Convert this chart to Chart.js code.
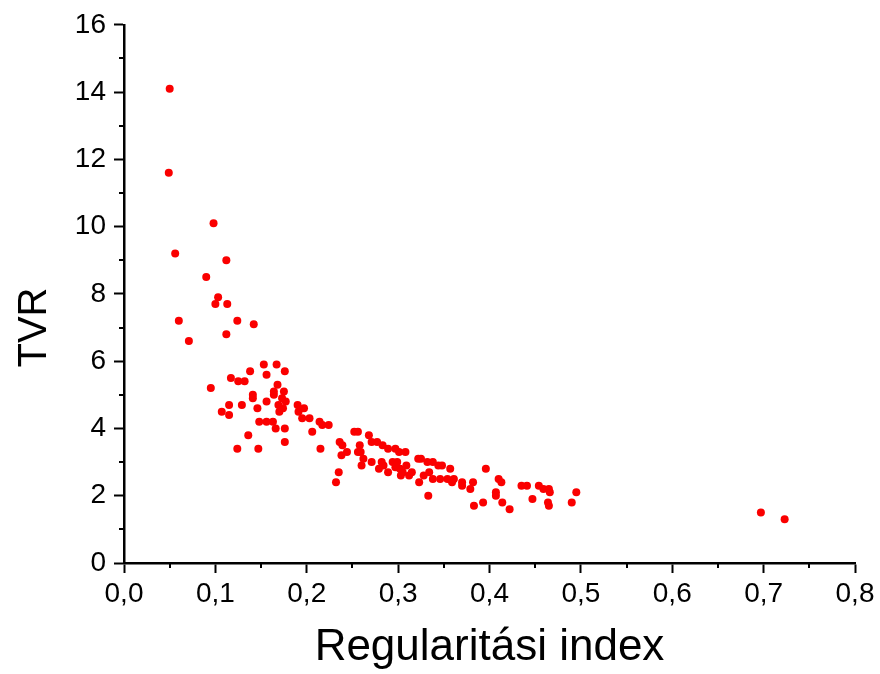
<!DOCTYPE html>
<html>
<head>
<meta charset="utf-8">
<title>TVR vs Regularitási index</title>
<script src="https://cdn.jsdelivr.net/npm/chart.js@4.4.1/dist/chart.umd.min.js"></script>
<style>
  html, body { margin: 0; padding: 0; background: #fff; }
  #wrap { width: 880px; height: 674px; }
</style>
</head>
<body>
<div id="wrap"><canvas id="chart" width="880" height="674"></canvas></div>
<script>
// Regularitási index (x) and TVR (y)
const regIndex = [
  0.050, 0.049, 0.098, 0.056, 0.112, 0.090, 0.103, 0.100, 0.113, 0.060,
  0.124, 0.142, 0.112, 0.071, 0.153, 0.167, 0.138, 0.156, 0.176, 0.117,
  0.125, 0.132, 0.168, 0.095, 0.141, 0.141, 0.164, 0.164, 0.175, 0.173,
  0.177, 0.156, 0.169, 0.174, 0.170, 0.115, 0.129, 0.146, 0.107, 0.115,
  0.190, 0.197, 0.191, 0.195, 0.203, 0.148, 0.156, 0.163, 0.166, 0.176,
  0.214, 0.217, 0.224, 0.206, 0.136, 0.176, 0.124, 0.147, 0.215, 0.236,
  0.239, 0.244, 0.238, 0.235, 0.232, 0.252, 0.256, 0.258, 0.256, 0.259,
  0.262, 0.260, 0.268, 0.271, 0.277, 0.283, 0.289, 0.297, 0.301, 0.308,
  0.271, 0.282, 0.284, 0.279, 0.289, 0.294, 0.299, 0.297, 0.302, 0.309,
  0.305, 0.312, 0.315, 0.303, 0.322, 0.325, 0.332, 0.338, 0.334, 0.328,
  0.323, 0.333, 0.344, 0.348, 0.357, 0.338, 0.346, 0.354, 0.361, 0.359,
  0.370, 0.370, 0.382, 0.379, 0.396, 0.410, 0.413, 0.407, 0.407, 0.383,
  0.393, 0.414, 0.422, 0.435, 0.441, 0.447, 0.454, 0.459, 0.465, 0.466,
  0.464, 0.465, 0.490, 0.495, 0.697, 0.723
];

const tvr = [
  14.1, 11.6, 10.1, 9.2, 9.0, 8.5, 7.9, 7.7, 7.7, 7.2,
  7.2, 7.1, 6.8, 6.6, 5.9, 5.9, 5.7, 5.6, 5.7, 5.5,
  5.4, 5.4, 5.3, 5.2, 5.0, 4.9, 5.1, 5.0, 5.1, 4.9,
  4.8, 4.8, 4.7, 4.6, 4.5, 4.7, 4.7, 4.6, 4.5, 4.4,
  4.7, 4.6, 4.5, 4.3, 4.3, 4.2, 4.2, 4.2, 4.0, 4.0,
  4.2, 4.1, 4.1, 3.9, 3.8, 3.6, 3.4, 3.4, 3.4, 3.6,
  3.5, 3.3, 3.2, 2.7, 2.4, 3.9, 3.9, 3.5, 3.3, 3.3,
  3.1, 2.9, 3.8, 3.6, 3.6, 3.5, 3.4, 3.4, 3.3, 3.3,
  3.0, 3.0, 2.9, 2.8, 2.7, 3.0, 3.0, 2.85, 2.8, 2.9,
  2.7, 2.6, 2.7, 2.6, 3.1, 3.1, 3.0, 3.0, 2.7, 2.6,
  2.4, 2.0, 2.9, 2.9, 2.8, 2.5, 2.5, 2.5, 2.5, 2.4,
  2.4, 2.3, 2.4, 2.2, 2.8, 2.5, 2.4, 2.1, 2.0, 1.7,
  1.8, 1.8, 1.6, 2.3, 2.3, 1.9, 2.3, 2.2, 2.2, 2.1,
  1.8, 1.7, 1.8, 2.1, 1.5, 1.3
];

// axis ranges / ticks
const xRange = [0, 0.8];
const yRange = [0, 16];
const xMinorTicks = [0.05, 0.15, 0.25, 0.35, 0.45, 0.55, 0.65, 0.75];
const yMinorTicks = [1, 3, 5, 7, 9, 11, 13, 15];
const yTitle = 'TVR';

const points = regIndex.map((x, i) => ({ x: x, y: tvr[i] }));

// small outward ticks between the labelled ones, plus the y title
// (sits a bit below the middle of the axis in the original)
const extras = {
  id: 'extras',
  afterDraw(chart) {
    const ctx = chart.ctx;
    const xs = chart.scales.x;
    const ys = chart.scales.y;
    ctx.save();
    ctx.strokeStyle = '#000';
    ctx.lineWidth = 2;
    ctx.beginPath();
    xMinorTicks.forEach(v => {
      const px = Math.round(xs.getPixelForValue(v));
      ctx.moveTo(px, ys.bottom);
      ctx.lineTo(px, ys.bottom + 5);
    });
    yMinorTicks.forEach(v => {
      const py = Math.round(ys.getPixelForValue(v));
      ctx.moveTo(xs.left, py);
      ctx.lineTo(xs.left - 5, py);
    });
    ctx.stroke();

    ctx.translate(46, ys.getPixelForValue(7));
    ctx.rotate(-Math.PI / 2);
    ctx.fillStyle = '#000';
    ctx.font = '40px "Liberation Sans", Arial';
    ctx.textAlign = 'center';
    ctx.textBaseline = 'alphabetic';
    ctx.fillText(yTitle, 0, 0);
    ctx.restore();
  }
};

const ctx = document.getElementById('chart').getContext('2d');
new Chart(ctx, {
  type: 'scatter',
  data: {
    datasets: [{
      data: points,
      backgroundColor: 'rgb(250, 0, 0)',
      borderWidth: 0,
      pointRadius: 4,
      pointHoverRadius: 4
    }]
  },
  options: {
    responsive: false,
    animation: false,
    layout: {
      padding: { top: 23, right: 25, left: 0, bottom: 0 }
    },
    plugins: {
      legend: { display: false },
      tooltip: { enabled: false }
    },
    scales: {
      x: {
        type: 'linear',
        min: xRange[0],
        max: xRange[1],
        afterFit: s => { s.height = 111; },
        ticks: {
          stepSize: 0.1,
          color: '#000',
          padding: 4,
          font: { family: 'Liberation Sans, Arial', size: 28 },
          callback: v => v.toFixed(1).replace('.', ',')
        },
        grid: {
          drawOnChartArea: false,
          drawTicks: true,
          tickLength: 10,
          tickColor: '#000',
          tickWidth: 2
        },
        border: { display: true, color: '#000', width: 2.5 },
        title: {
          display: true,
          text: 'Regularitási index',
          color: '#000',
          font: { family: 'Liberation Sans, Arial', size: 44 },
          padding: { top: -6, bottom: 0 }
        }
      },
      y: {
        type: 'linear',
        min: yRange[0],
        max: yRange[1],
        afterFit: s => { s.width = 124; },
        ticks: {
          stepSize: 2,
          color: '#000',
          padding: 8,
          font: { family: 'Liberation Sans, Arial', size: 28 }
        },
        grid: {
          drawOnChartArea: false,
          drawTicks: true,
          tickLength: 10,
          tickColor: '#000',
          tickWidth: 2
        },
        border: { display: true, color: '#000', width: 2.5 }
      }
    }
  },
  plugins: [extras]
});
</script>
</body>
</html>
